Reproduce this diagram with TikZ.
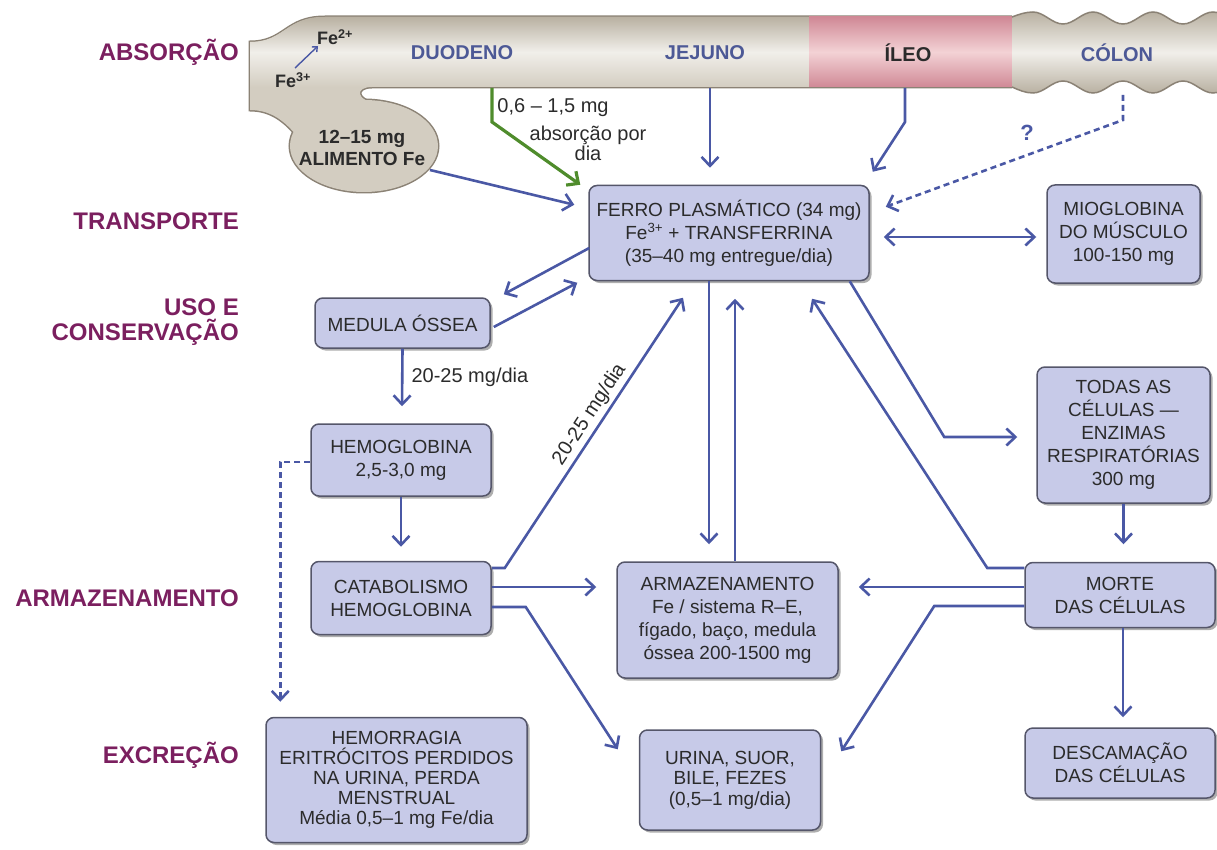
\documentclass[tikz,border=0pt]{standalone}
\usepackage{fontspec}
\setmainfont{Liberation Sans}
\usetikzlibrary{arrows.meta,positioning,calc,shadows}
\usepackage{xcolor}
\definecolor{flow}{HTML}{4A58A5}
\definecolor{boxfill}{HTML}{C7CAE8}
\definecolor{boxline}{HTML}{55566A}
\definecolor{ink}{HTML}{2B2B2B}
\definecolor{stagecol}{HTML}{7B1F5F}
\definecolor{seglabel}{HTML}{4D5996}
\definecolor{tubeedge}{HTML}{8B8275}
\definecolor{tubefill}{HTML}{D3CDC1}
\definecolor{tubetop}{HTML}{B9B1A2}
\definecolor{tubelight}{HTML}{F1EFEA}
\definecolor{ileum}{HTML}{D08996}
\definecolor{ileumlight}{HTML}{F3D2D5}
\definecolor{gutgreen}{HTML}{4F8C2C}
\tikzset{
  box/.style={draw=boxline, line width=1.5pt, rounded corners=8pt, fill=boxfill, align=center, inner sep=0pt, text=ink,
    drop shadow={shadow xshift=2.5pt, shadow yshift=-2.5pt, opacity=0.45, fill=black!70}},
  stage/.style={font=\fontsize{24}{26}\selectfont\bfseries, text=stagecol, anchor=east, align=right, inner sep=0pt},
  segment/.style={font=\fontsize{20}{24}\selectfont\bfseries, text=seglabel, inner sep=0pt},
  ion/.style={font=\fontsize{18}{20}\selectfont\bfseries, text=ink, inner sep=0pt},
  note/.style={font=\fontsize{20}{20}\selectfont, text=ink, align=center, inner sep=0pt},
  arrow/.style={-{Straight Barb[length=9pt,width=17pt]}, line width=2.6pt, draw=flow},
  dasharrow/.style={arrow, dash pattern=on 6pt off 4pt},
  greenarrow/.style={arrow, draw=gutgreen, line width=3.2pt}
}
% outline of duodenum, jejunum and ileum with the flared start
\newcommand\gutpath{(1012,87) -- (372,87) .. controls (355,87) and (355,100) .. (378,104) -- (378,140) -- (300,140)
  .. controls (285,120) and (270,110) .. (250,110) -- (250,42) .. controls (285,42) and (285,17) .. (325,17) -- (1012,17)}

\begin{document}
\begin{tikzpicture}[x=1pt, y=-1pt, font=\fontsize{19}{23}\selectfont]
  \useasboundingbox (0,0) rectangle (1217,850);

  % intestine
  \draw[tubeedge, line width=3pt] \gutpath;
  \draw[tubeedge, line width=3pt] (364,146) ellipse [x radius=74pt, y radius=46pt];
  \fill[tubefill] \gutpath -- cycle;
  \begin{scope}
    \clip \gutpath -- cycle;
    \shade[top color=tubetop, bottom color=tubefill, middle color=tubelight] (250,17) rectangle (1012,87);
  \end{scope}
  \fill[tubefill] (364,146) ellipse [x radius=74pt, y radius=46pt];
  \shade[top color=ileum, bottom color=ileum, middle color=ileumlight] (809,17) rectangle (1012,87);
  \shade[top color=tubetop, bottom color=tubetop, middle color=tubelight]
    (1012,17) sin (1033,12)
    \foreach \k in {0,...,3} { cos (1048+60*\k,18) sin (1063+60*\k,24) cos (1078+60*\k,18) sin (1093+60*\k,12) }
    -- (1273,93)
    \foreach \s in {1213,1153,1093,1033} { cos (\s+45,87) sin (\s+30,81) cos (\s+15,87) sin (\s,93) }
    cos (1012,87) -- cycle;
  \draw[tubeedge, line width=1.5pt] (1012,17) sin (1033,12)
    \foreach \k in {0,...,3} { cos (1048+60*\k,18) sin (1063+60*\k,24) cos (1078+60*\k,18) sin (1093+60*\k,12) };
  \draw[tubeedge, line width=1.5pt] (1273,93)
    \foreach \s in {1213,1153,1093,1033} { cos (\s+45,87) sin (\s+30,81) cos (\s+15,87) sin (\s,93) }
    cos (1012,87);

  % stages
  \node[stage] (absorcao) at (239,52) {ABSORÇÃO};
  \node[stage] (transporte) at (239,221) {TRANSPORTE};
  \node[stage, font=\fontsize{24}{25}\selectfont\bfseries] (uso) at (239,322) {USO E\\CONSERVAÇÃO};
  \node[stage] (armazenamento) at (239,598) {ARMAZENAMENTO};
  \node[stage] (excrecao) at (239,755) {EXCREÇÃO};

  % gut segments
  \node[segment] (duodeno) at (462,53) {DUODENO};
  \node[segment] (jejuno) at (705,53) {JEJUNO};
  \node[segment, text=ink] (ileo) at (908,53) {ÍLEO};
  \node[segment] (colon) at (1117,53) {CÓLON};
  \node[ion] (fe2) at (335,37) {Fe\textsuperscript{2+}};
  \node[ion] (fe3) at (293,80) {Fe\textsuperscript{3+}};
  \draw[-{Straight Barb[length=4pt,width=7pt]}, line width=1.4pt, draw=flow] ($(fe3)+(2,-12)$) -- ($(fe2)+(-17,9)$);
  \node[align=center, font=\fontsize{19}{22}\selectfont\bfseries, text=ink] (food) at (362,148) {12–15 mg\\ALIMENTO Fe};

  % boxes
  \node[box, minimum width=280pt, minimum height=95pt] (ferro) at (729,233) {FERRO PLASMÁTICO (34 mg)\\Fe\textsuperscript{3+} + TRANSFERRINA\\(35–40 mg entregue/dia)};
  \node[box, minimum width=153pt, minimum height=98pt] (mio) at (1123.5,234) {MIOGLOBINA\\DO MÚSCULO\\100-150 mg};
  \node[box, minimum width=175pt, minimum height=50pt] (medula) at (402.5,323) {MEDULA ÓSSEA};
  \node[box, minimum width=180pt, minimum height=72pt] (hemo) at (401,460) {HEMOGLOBINA\\2,5-3,0 mg};
  \node[box, minimum width=180pt, minimum height=73pt] (catab) at (401,598) {CATABOLISMO\\HEMOGLOBINA};
  \node[box, minimum width=221pt, minimum height=116pt] (armaz) at (727.5,620) {ARMAZENAMENTO\\Fe / sistema R–E,\\fígado, baço, medula\\óssea 200-1500 mg};
  \node[box, minimum width=173pt, minimum height=136pt] (todas) at (1123.5,435) {TODAS AS\\CÉLULAS —\\ENZIMAS\\RESPIRATÓRIAS\\300 mg};
  \node[box, minimum width=190pt, minimum height=65pt] (morte) at (1120,595) {MORTE\\DAS CÉLULAS};
  \node[box, minimum width=190pt, minimum height=70pt] (descam) at (1120,763) {DESCAMAÇÃO\\DAS CÉLULAS};
  \node[box, minimum width=181pt, minimum height=100pt, font=\fontsize{19}{20.5}\selectfont] (urina) at (730,780) {URINA, SUOR,\\BILE, FEZES\\(0,5–1 mg/dia)};
  \node[box, minimum width=261pt, minimum height=125pt, font=\fontsize{19}{20}\selectfont] (hemorr) at (396.5,780) {HEMORRAGIA\\ERITRÓCITOS PERDIDOS\\NA URINA, PERDA\\MENSTRUAL\\Média 0,5–1 mg Fe/dia};

  % absorption
  \draw[arrow] ($(food)+(68,22)$) -- ($(ferro.north west)+(-14,20)$);
  \draw[greenarrow] ($(duodeno)+(30,35)$) -- ++(0,34) -- ($(ferro.north west)+(-8,0)$);
  \node[note] (dose) at (553,108) {0,6 – 1,5 mg};
  \node[note] (dose2) at (588,143) {absorção por\\dia};
  \draw[arrow] ($(jejuno)+(5,35)$) -- ($(ferro.north)+(-19,-17)$);
  \draw[arrow] ($(ileo)+(-3,35)$) -- ++(0,34) -- ($(ferro.north east)+(3,-13)$);
  \draw[dasharrow] ($(colon)+(6,42)$) -- ++(0,25) -- ($(ferro.north east)+(16,22)$);
  \node[font=\fontsize{22}{22}\selectfont\bfseries, text=flow] (unknown) at (1027,133) {?};

  % transport and use
  \draw[arrow, {Straight Barb[length=9pt,width=17pt]}-{Straight Barb[length=9pt,width=17pt]}] ($(ferro.east)+(14,4)$) -- ($(mio.west)+(-10,3)$);
  \draw[arrow] ($(ferro.west)+(1,15)$) -- ($(medula.north east)+(13,-3)$);
  \draw[arrow] ($(medula.east)+(3,4)$) -- ($(ferro.south west)+(-11,1.5)$);
  \draw[arrow] (medula.south) -- node[right=8pt, note] {20-25 mg/dia} ($(hemo.north)+(1,-17)$);
  \draw[arrow] (hemo.south) -- ($(catab.north)+(0,-14)$);
  \draw[dasharrow] ($(hemo.west)+(0,2)$) -| ($(hemorr.north west)+(15,-15)$);
  \draw[arrow] ($(ferro.south east)+(-20,0)$) -- ($(todas.west)+(-92,2)$) -- ($(todas.west)+(-19,2)$);

  % storage and recycling
  \draw[arrow] ($(catab.east)+(0,-30)$) -- ++(13,0) -- node[pos=0.54, sloped, above=3pt, note] {20-25 mg/dia} ($(ferro.south)+(-46,16.5)$);
  \draw[arrow] ($(catab.east)+(0,-11)$) -- ($(armaz.west)+(-20,-33)$);
  \draw[arrow] ($(catab.east)+(0,9)$) -- ++(34,0) -- ($(urina.north west)+(-21,20)$);
  \draw[arrow] ($(ferro.south)+(-20,0)$) -- ($(armaz.north)+(-18.5,-17)$);
  \draw[arrow] ($(armaz.north)+(7.5,0)$) -- ($(ferro.south)+(6,17.5)$);
  \draw[arrow] (todas.south) -- ($(morte.north)+(3.5,-17.5)$);
  \draw[arrow] ($(morte.west)+(0,-27)$) -- ++(-37,0) -- ($(ferro.south)+(83,17.5)$);
  \draw[arrow] ($(morte.west)+(0,-8)$) -- ($(armaz.east)+(20,-33)$);
  \draw[arrow] ($(morte.west)+(0,11)$) -- ++(-90,0) -- ($(urina.north east)+(20,22)$);
  \draw[arrow] ($(morte.south)+(3,0)$) -- ($(descam.north)+(3,-10)$);
\end{tikzpicture}
\end{document}
